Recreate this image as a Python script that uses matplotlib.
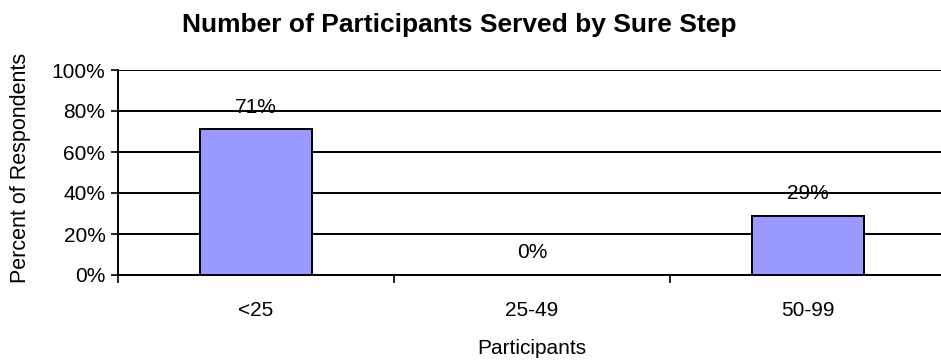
import matplotlib
matplotlib.use("Agg")
import matplotlib.pyplot as plt
import numpy as np

categories = ["<25", "25-49", "50-99"]
shares = [71, 0, 29]                      # percent of respondents
value_labels = ["71%", "0%", "29%"]
y_ticks = [0, 20, 40, 60, 80, 100]
y_tick_labels = ["0%", "20%", "40%", "60%", "80%", "100%"]

W, H = 941, 360
BAR_COLOR = "#9999ff"
FONT = "Liberation Sans"

plt.rcParams["font.family"] = [FONT, "DejaVu Sans"]

fig = plt.figure(figsize=(W / 100, H / 100), dpi=100)
# plot area in pixels: left 118, right 946 (runs off the canvas), top 70, bottom 275
ax = fig.add_axes([118 / W, 1 - 275 / H, 828 / W, 205 / H])

x = np.arange(len(categories))
ax.bar(x, shares, width=0.405, color=BAR_COLOR, edgecolor="black",
       linewidth=1.4, zorder=3)

for xi, v, lab in zip(x, shares, value_labels):
    ax.annotate(lab, (xi, v), xytext=(0, 16), textcoords="offset points",
                ha="center", va="center", fontsize=15, zorder=4)

ax.set_xlim(-0.5, 2.5)
ax.set_ylim(0, 100)

ax.set_yticks(y_ticks)
ax.set_yticklabels(y_tick_labels)
ax.yaxis.grid(True, color="black", linewidth=1.4, zorder=0)
ax.tick_params(axis="y", direction="out", length=5, width=1.2,
               pad=4, labelsize=15)

# tick marks on category boundaries, labels at category centres
ax.set_xticks([-0.5, 0.5, 1.5, 2.5])
ax.set_xticklabels([])
ax.tick_params(axis="x", which="major", direction="out", length=6, width=1.2)
ax.set_xticks(x, minor=True)
ax.set_xticklabels(categories, minor=True)
ax.tick_params(axis="x", which="minor", length=0, pad=19, labelsize=15)

for side in ("top", "right"):
    ax.spines[side].set_visible(False)
for side in ("left", "bottom"):
    ax.spines[side].set_linewidth(1.4)
ax.set_axisbelow(True)

fig.text(459.5 / W, 1 - 32 / H, "Number of Participants Served by Sure Step",
         ha="center", va="baseline", fontsize=19, fontweight="bold")
fig.text(532 / W, 1 - 349 / H, "Participants", ha="center", va="center",
         fontsize=15)
fig.text(21 / W, 1 - 168 / H, "Percent of Respondents", ha="center",
         va="center", rotation=90, fontsize=15.5)

fig.savefig("out.png", dpi=100)
